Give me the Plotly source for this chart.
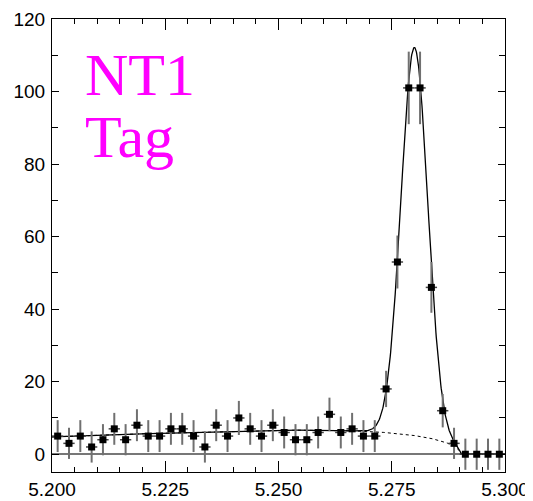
import numpy as np
import plotly.graph_objects as go

# ---- data ----
bin_centers = [round(5.20125 + 0.0025 * i, 5) for i in range(40)]
counts = [5, 3, 5, 2, 4, 7, 4, 8, 5, 5,
          7, 7, 5, 2, 8, 5, 10, 7, 5, 8,
          6, 4, 4, 6, 11, 6, 7, 5, 5, 18,
          53, 101, 101, 46, 12, 3, 0, 0, 0, 0]
errors = [4.4, 4.3, 4.4, 4.3, 4.3, 4.4, 4.3, 4.4, 4.4, 4.4,
          4.4, 4.4, 4.4, 4.3, 4.4, 4.4, 4.7, 4.4, 4.4, 4.4,
          4.4, 4.3, 4.3, 4.4, 4.6, 4.4, 4.4, 4.4, 4.4, 5.0,
          7.3, 10.0, 10.0, 7.0, 4.6, 4.3, 4.3, 4.3, 4.3, 4.3]
half_bin = 0.00125

# fit model parameters (Gaussian signal + ARGUS background)
sig_mean = 5.2800
sig_sigma = 0.00296
sig_amp = 107.0
argus_m0 = 5.2902
argus_c = -38.2
argus_norm = 18.2

x_tick_vals = [5.200, 5.225, 5.250, 5.275, 5.300]
x_tick_text = ["5.200", "5.225", "5.250", "5.275", "5.300"]

# ---- fit curves ----
m = np.linspace(5.2, 5.3, 1201)
z = np.clip(1 - (m / argus_m0) ** 2, 0, None)
bkg = argus_norm * m * np.sqrt(z) * np.exp(argus_c * z)
bkg[m >= argus_m0] = 0.0
sig = sig_amp * np.exp(-0.5 * ((m - sig_mean) / sig_sigma) ** 2)
total = bkg + sig

fig = go.Figure()
fig.add_trace(go.Scatter(x=m, y=bkg, mode="lines",
                         line=dict(color="black", width=1, dash="dot"),
                         hoverinfo="skip"))
fig.add_trace(go.Scatter(x=m, y=total, mode="lines",
                         line=dict(color="black", width=1.3),
                         hoverinfo="skip"))
fig.add_trace(go.Scatter(
    x=bin_centers, y=counts, mode="markers",
    marker=dict(symbol="square", size=7, color="black"),
    error_y=dict(type="data", array=errors, visible=True,
                 color="#707070", thickness=2, width=0),
    error_x=dict(type="constant", value=half_bin, visible=True,
                 color="#444444", thickness=1.5, width=0),
))

font_tick = dict(family="Liberation Sans, Arial, sans-serif", size=19, color="black")

# the page body adds an 8 px offset; the figure is sized to fill the rest
fig.update_layout(
    width=525, height=493,
    margin=dict(l=44, r=28, t=11, b=29),
    paper_bgcolor="white", plot_bgcolor="white",
    showlegend=False,
    xaxis=dict(range=[5.2, 5.3], tickvals=x_tick_vals, ticktext=x_tick_text,
               ticks="inside", ticklen=11, tickwidth=1, tickcolor="black",
               minor=dict(dtick=0.005, ticks="inside", ticklen=5, tickcolor="black"),
               showline=True, linecolor="black", linewidth=1, mirror="ticks",
               showgrid=False, zeroline=False, tickfont=font_tick,
               automargin=False, ticklabelstandoff=0),
    yaxis=dict(range=[-4.9, 120], dtick=20, tick0=0,
               ticks="inside", ticklen=7, tickwidth=1, tickcolor="black",
               minor=dict(dtick=10, ticks="inside", ticklen=6, tickcolor="black"),
               showline=True, linecolor="black", linewidth=1, mirror="ticks",
               showgrid=False, zeroline=True, zerolinecolor="#777777",
               zerolinewidth=1.5, tickfont=font_tick,
               automargin=False, ticklabelstandoff=2),
    annotations=[
        dict(text="NT1", xref="paper", yref="paper", x=(83 - 52) / 453,
             y=(472 - 75) / 453, xanchor="left", yanchor="middle",
             showarrow=False,
             font=dict(family="Liberation Serif, Times New Roman, serif",
                       size=60, color="#ff00ff")),
        dict(text="Tag", xref="paper", yref="paper", x=(83 - 52) / 453,
             y=(472 - 137) / 453, xanchor="left", yanchor="middle",
             showarrow=False,
             font=dict(family="Liberation Serif, Times New Roman, serif",
                       size=60, color="#ff00ff")),
    ],
)

fig.write_html("out.html")
